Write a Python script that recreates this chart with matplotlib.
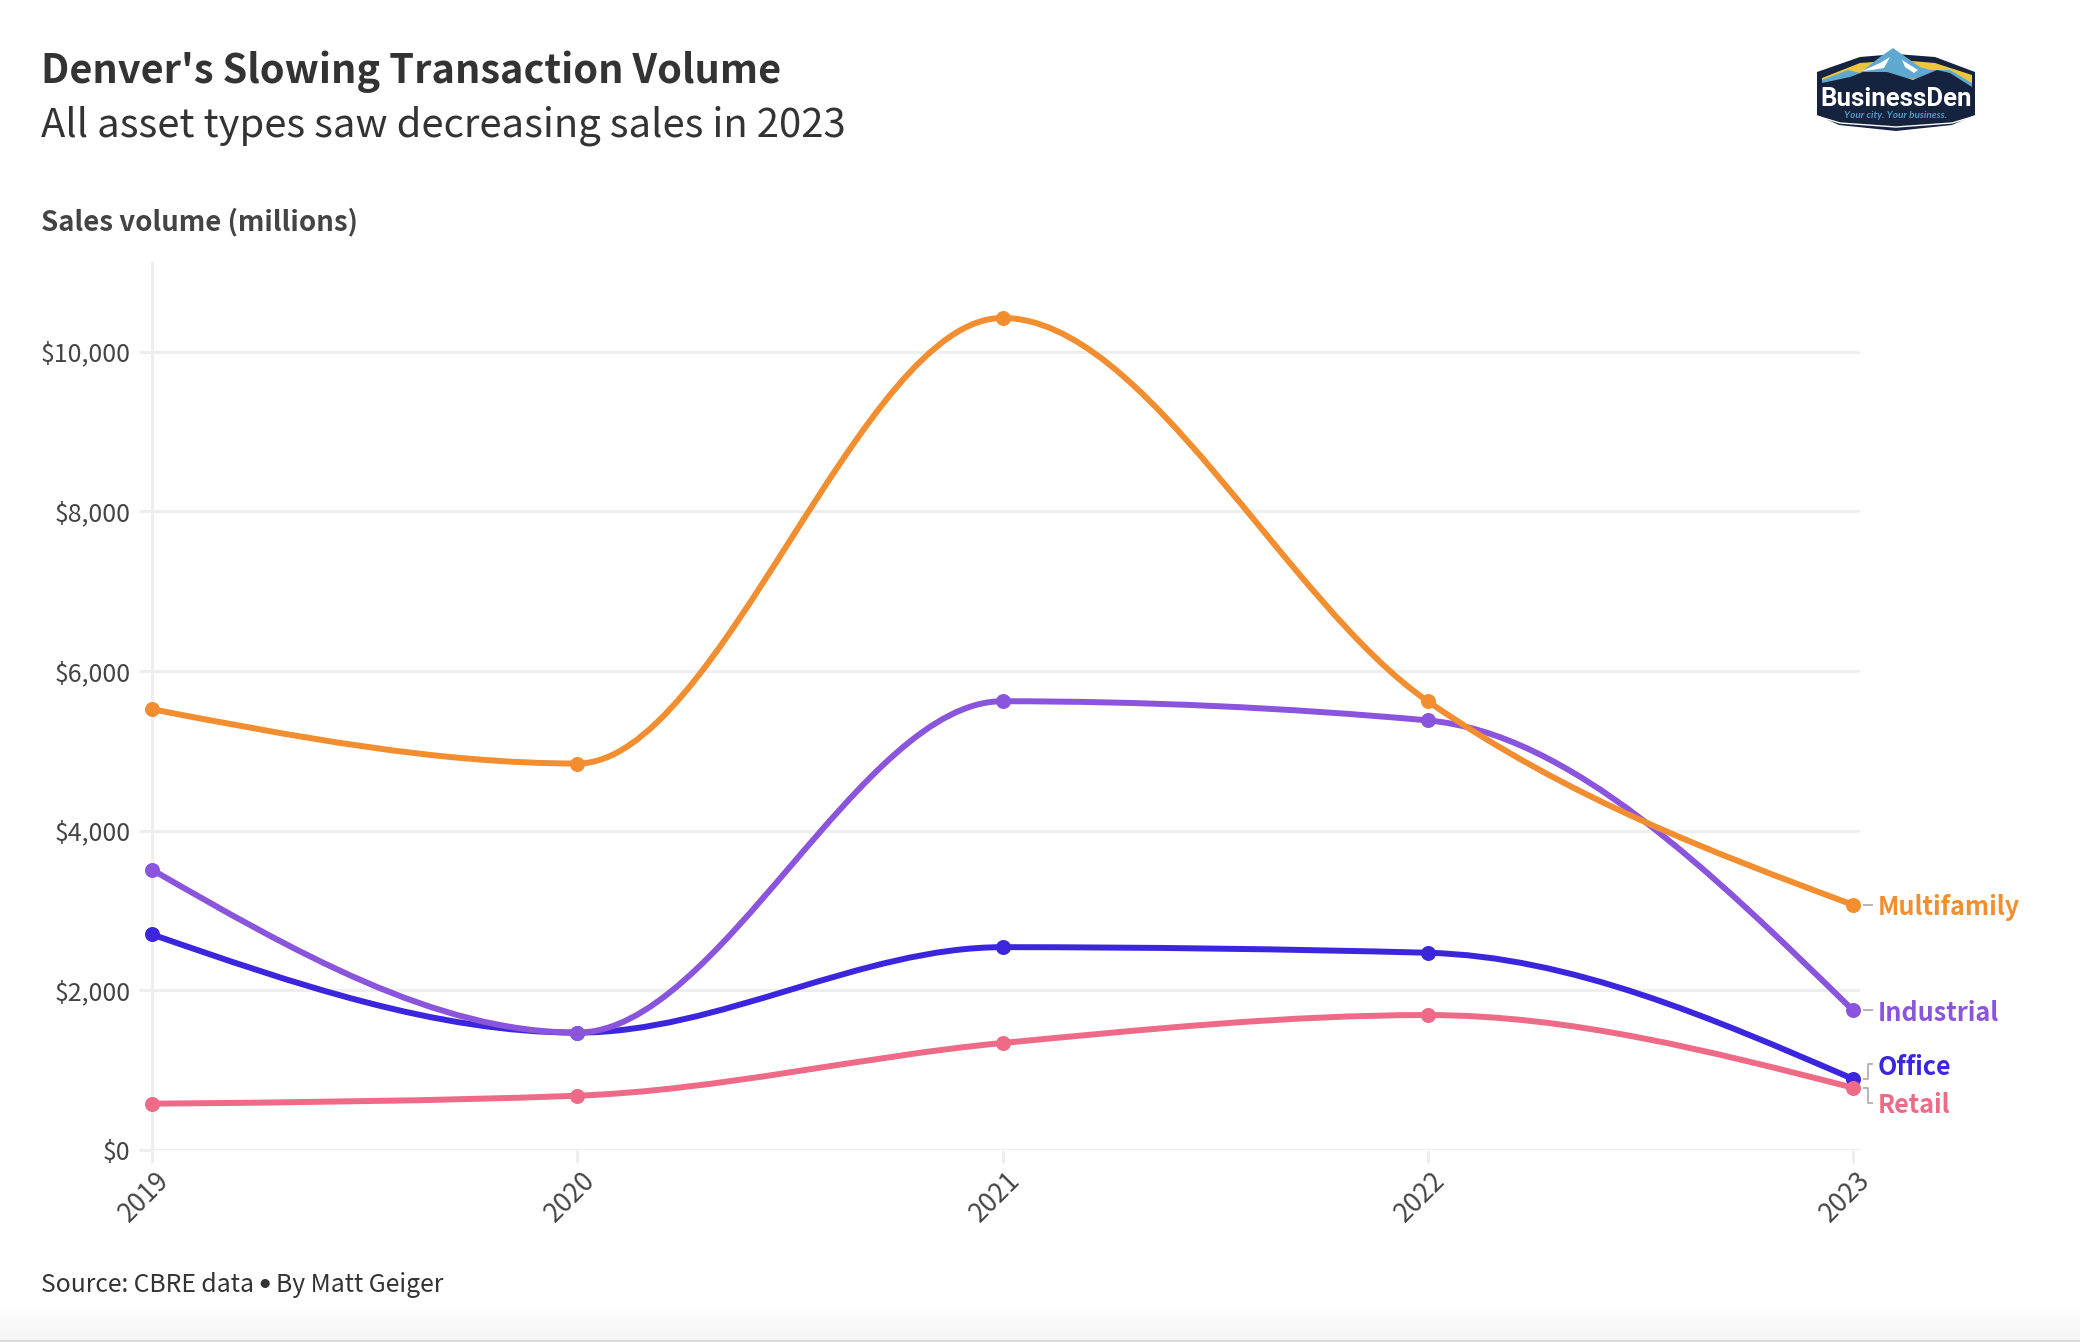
import numpy as np
import matplotlib
matplotlib.use("Agg")
import matplotlib.pyplot as plt
from matplotlib.path import Path
from matplotlib.patches import PathPatch, Polygon
from matplotlib.transforms import IdentityTransform, ScaledTranslation

plt.rcParams["font.family"] = ["Noto Sans CJK SC", "DejaVu Sans"]

years = [2019, 2020, 2021, 2022, 2023]
multifamily = [5520, 4840, 10420, 5620, 3070]
industrial = [3510, 1470, 5620, 5380, 1750]
office = [2700, 1470, 2540, 2470, 890]
retail = [580, 680, 1340, 1690, 780]
y_ticks = [0, 2000, 4000, 6000, 8000, 10000]
y_labels = ["$0", "$2,000", "$4,000", "$6,000", "$8,000", "$10,000"]

W, H = 2080, 1342
TEXT = "#333333"
GRID = "#eeeeee"


def monotone_path(xs, ys):
    # same smoothing as d3 curveMonotoneX, drawn as bezier segments
    xs = np.array(xs, dtype=float)
    ys = np.array(ys, dtype=float)
    h = np.diff(xs)
    s = np.diff(ys) / h
    t = np.zeros(len(xs))
    for i in range(1, len(xs) - 1):
        p = (s[i - 1] * h[i] + s[i] * h[i - 1]) / (h[i - 1] + h[i])
        t[i] = (np.sign(s[i - 1]) + np.sign(s[i])) * min(abs(s[i - 1]), abs(s[i]), 0.5 * abs(p))
    t[0] = (3 * s[0] - t[1]) / 2
    t[-1] = (3 * s[-1] - t[-2]) / 2
    verts = [(xs[0], ys[0])]
    codes = [Path.MOVETO]
    for i in range(len(h)):
        d = h[i] / 3
        verts += [(xs[i] + d, ys[i] + d * t[i]), (xs[i + 1] - d, ys[i + 1] - d * t[i + 1]), (xs[i + 1], ys[i + 1])]
        codes += [Path.CURVE4] * 3
    return Path(verts, codes)


fig = plt.figure(figsize=(W / 100, H / 100), dpi=100, facecolor="white")

# full size layer in image pixels for titles, logo, footer
bg = fig.add_axes([0, 0, 1, 1], zorder=0)
bg.axis("off")
fade = np.linspace(1, 0.955, 40).reshape(-1, 1)
bg.imshow(fade, extent=(0, W, H, 1302), cmap="gray", vmin=0, vmax=1, aspect="auto")
bg.set_xlim(0, W)
bg.set_ylim(H, 0)
bg.plot([0, W], [1341, 1341], color="#d9d9d9", lw=1.5)

bg.text(41, 72, "Denver's Slowing Transaction Volume", fontsize=28.6, fontweight="bold", color=TEXT, va="center")
bg.text(41, 126, "All asset types saw decreasing sales in 2023", fontsize=28.8, color=TEXT, va="center")
bg.text(41, 222, "Sales volume (millions)", fontsize=19.9, fontweight="bold", color="#444444", va="center")
bg.text(41, 1285, "Source: CBRE data", fontsize=17.8, color=TEXT, va="center")
bg.text(265, 1283, "•", family=["Lato", "DejaVu Sans"], fontsize=17.8, color=TEXT, va="center", ha="center")
bg.text(276, 1285, "By Matt Geiger", fontsize=17.8, color=TEXT, va="center")

# logo
navy = "#15233f"
bg.add_patch(Polygon([(1817, 72), (1860, 57), (1896, 54), (1935, 57), (1975, 72), (1975, 115), (1952, 125),
                      (1896, 131), (1839, 125), (1817, 115)], closed=True, fc=navy, lw=0))
bg.add_patch(Polygon([(1822, 86), (1822, 78), (1860, 63), (1900, 60), (1935, 63), (1972, 75), (1972, 86)],
                     closed=True, fc="#efc53f", lw=0))
bg.add_patch(Polygon([(1822, 80), (1848, 70), (1860, 73), (1880, 57), (1893, 48), (1903, 55), (1920, 67),
                      (1930, 70), (1950, 70), (1972, 83), (1972, 90), (1940, 80), (1900, 78), (1860, 80), (1822, 88)],
                     closed=True, fc="#5fa8cf", lw=0))
bg.add_patch(Polygon([(1822, 83), (1850, 77), (1863, 72), (1887, 72), (1913, 80), (1937, 70), (1950, 73),
                      (1972, 87), (1972, 115), (1822, 115)], closed=True, fc=navy, lw=0))
bg.add_patch(Polygon([(1862, 71), (1880, 63), (1890, 57), (1884, 68), (1872, 70)], closed=True, fc="white", lw=0))
bg.add_patch(Polygon([(1902, 60), (1918, 70), (1914, 73), (1905, 67)], closed=True, fc="white", lw=0))
bg.plot([1820, 1840, 1896, 1952, 1972], [117, 123, 127, 123, 117], color="white", lw=1)
bg.text(1896, 99, "BusinessDen", family=["Roboto", "DejaVu Sans"], fontsize=18.5,
        fontweight="bold", color="white", ha="center", va="center")
bg.text(1896, 116, "Your city. Your business.", family=["Lato", "DejaVu Sans"], fontsize=7.2, style="italic",
        fontweight="bold", color="#4f9cc6", ha="center", va="center")

# chart axes
left, right, top, bottom = 152, 1860, 263, 1150
ax = fig.add_axes([left / W, 1 - bottom / H, (right - left) / W, (bottom - top) / H], zorder=1)
ax.patch.set_alpha(0)
ax.set_xlim(2019, 2019 + 4 * (right - left) / (1853 - left))
ax.set_ylim(0, (bottom - top) / 0.07985)

for s in ["top", "right", "bottom"]:
    ax.spines[s].set_visible(False)
ax.spines["left"].set_color(GRID)
ax.spines["left"].set_linewidth(2.2)
ax.set_yticks(y_ticks)
ax.set_yticklabels(y_labels, fontsize=18, color="#444444")
ax.set_xticks(years)
ax.set_xticklabels(years, fontsize=19, color="#444444", rotation=45, ha="right", va="top", rotation_mode="anchor")
ax.tick_params(axis="both", length=9.5, width=2.2, color=GRID, pad=6)
ax.tick_params(axis="x", pad=2.5)
for label in ax.get_xticklabels():
    label.set_transform(label.get_transform() + ScaledTranslation(4 / 100, 0, fig.dpi_scale_trans))
ax.grid(axis="y", color=GRID, lw=2.2)
ax.set_axisbelow(True)

series = [
    ("Office", office, "#3b26de", 14, "bracket_up"),
    ("Retail", retail, "#ee6a87", -15, "bracket_down"),
    ("Industrial", industrial, "#8a55dc", 0, "dash"),
    ("Multifamily", multifamily, "#f28e2f", 0, "dash"),
]

fig.canvas.draw()
for name, values, color, shift, link in series:
    ax.add_patch(PathPatch(monotone_path(years, values), fc="none", ec=color, lw=4.3, capstyle="round",
                           clip_on=False, zorder=3))
    ax.plot(years, values, "o", color=color, ms=10.8, mew=0, clip_on=False, zorder=3)
    px, py = ax.transData.transform((years[-1], values[-1]))
    x0, x1, x2 = px + 11, px + 15, px + 19
    if link == "dash":
        pts = [(x0, py), (x2, py)]
    elif link == "bracket_up":
        pts = [(x0, py), (x1, py), (x1, py + 15), (x2, py + 15)]
    else:
        pts = [(x0, py), (x1, py), (x1, py - 15), (x2, py - 15)]
    fig.add_artist(plt.Line2D([p[0] for p in pts], [p[1] for p in pts], color="#b5b5b5", lw=1.4,
                              transform=IdentityTransform()))
    fig.text(px + 25, py + shift - 3, name, color=color, fontsize=18.1, fontweight="bold", va="center",
             transform=IdentityTransform())

fig.savefig("out.png", dpi=100)
